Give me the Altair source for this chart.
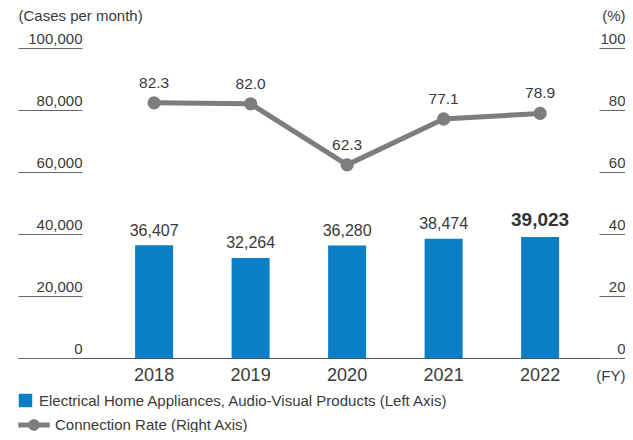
import altair as alt
import pandas as pd

years = ["2018", "2019", "2020", "2021", "2022"]
cases = [36407, 32264, 36280, 38474, 39023]
rates = [82.3, 82.0, 62.3, 77.1, 78.9]
highlight = [False, False, False, False, True]
left_ticks = [0, 20000, 40000, 60000, 80000, 100000]
right_ticks = [0, 20, 40, 60, 80, 100]
bar_series = "Electrical Home Appliances, Audio-Visual Products (Left Axis)"
line_series = "Connection Rate (Right Axis)"

df = pd.DataFrame({
    "year": years, "cases": cases, "rate": rates, "highlight": highlight,
    "bar_series": bar_series, "line_series": line_series,
})

FONT = "Liberation Sans"
TXT = "#3a3a3a"
BLUE = "#0b7fc5"
GRAY = "#7d7d7f"
LINE_SYMBOL = ("M-1,-0.16H-0.3V0.16H-1Z M0.3,-0.16H1V0.16H0.3Z "
               "M0.37,0A0.37,0.37 0 1 1 -0.37,0A0.37,0.37 0 1 1 0.37,0Z")
W = 607
H = 310

x_scale = alt.Scale(paddingInner=0.606, paddingOuter=0.948, align=0.64)
x_axis = alt.Axis(
    title="(FY)", labelAngle=0, ticks=False, labelPadding=22,
    labelBaseline="alphabetic", labelFontSize=18, labelColor=TXT, labelFont=FONT,
    domainColor="#555555", domainWidth=1, titleX=W, titleY=22,
    titleAlign="right", titleBaseline="alphabetic", titleFontSize=15,
    titleFontWeight="normal", titleColor=TXT, titleFont=FONT,
)
x_enc = alt.X("year:N", sort=years, scale=x_scale, axis=x_axis)

yl_scale = alt.Scale(domain=[0, 100000], nice=False)
yl_axis = alt.Axis(
    orient="left", offset=-64, values=left_ticks, format=",.0f", domain=False,
    grid=False, tickSize=64, tickColor="#666666", tickWidth=1,
    labelPadding=-64, labelAlign="right", labelBaseline="alphabetic",
    labelOffset=-5, labelFontSize=15, labelColor=TXT, labelFont=FONT,
    title="(Cases per month)", titleAngle=0, titleX=-64, titleY=-28,
    titleAlign="left", titleBaseline="alphabetic", titleFontSize=15,
    titleFontWeight="normal", titleColor=TXT, titleFont=FONT,
)
yr_scale = alt.Scale(domain=[0, 100], nice=False)
yr_axis = alt.Axis(
    orient="right", offset=-26, values=right_ticks, format=".0f", domain=False,
    grid=False, tickSize=26, tickColor="#666666", tickWidth=1,
    labelPadding=0, labelAlign="right", labelBaseline="alphabetic",
    labelOffset=-5, labelFontSize=15, labelColor=TXT, labelFont=FONT,
    title="(%)", titleAngle=0, titleX=26, titleY=-28,
    titleAlign="right", titleBaseline="alphabetic", titleFontSize=15,
    titleFontWeight="normal", titleColor=TXT, titleFont=FONT,
)
yl_enc = alt.Y("cases:Q", scale=yl_scale, axis=yl_axis)
yr_enc = alt.Y("rate:Q", scale=yr_scale, axis=yr_axis)

base = alt.Chart(df)

bars = base.mark_bar(color=BLUE).encode(
    x=x_enc,
    y=yl_enc,
    color=alt.Color("bar_series:N", scale=alt.Scale(range=[BLUE]),
                    legend=alt.Legend(
                        orient="none", legendX=0, legendY=345, padding=0,
                        title=None, symbolType="square", symbolSize=182,
                        symbolStrokeWidth=0, labelFontSize=15, labelFont=FONT,
                        labelColor=TXT, labelOffset=6, labelLimit=0)),
)
bar_text = base.transform_filter("!datum.highlight").mark_text(
    baseline="alphabetic", dy=-9.5, fontSize=16, font=FONT, color=TXT
).encode(
    x=x_enc,
    y=yl_enc,
    text=alt.Text("cases:Q", format=","),
)
bar_text_bold = base.transform_filter("datum.highlight").mark_text(
    baseline="alphabetic", dy=-11, fontSize=19, fontWeight="bold", font=FONT,
    color="#333333"
).encode(
    x=x_enc,
    y=yl_enc,
    text=alt.Text("cases:Q", format=","),
)

line = base.mark_line(color=GRAY, strokeWidth=5).encode(
    x=x_enc,
    y=yr_enc,
)
dots = base.mark_circle(size=177, opacity=1).encode(
    x=x_enc,
    y=yr_enc,
    color=alt.Color("line_series:N", scale=alt.Scale(range=[GRAY]),
                    legend=alt.Legend(
                        orient="none", legendX=0, legendY=361, padding=0,
                        title=None, symbolType=LINE_SYMBOL, symbolSize=986,
                        symbolStrokeWidth=0, symbolOpacity=1, labelFontSize=15,
                        labelFont=FONT, labelColor=TXT, labelOffset=5,
                        labelLimit=0)),
)
line_text = base.mark_text(
    baseline="alphabetic", dy=-15, fontSize=15.5, font=FONT, color=TXT
).encode(
    x=x_enc,
    y=yr_enc,
    text=alt.Text("rate:Q", format=".1f"),
)

left = alt.layer(bars, bar_text, bar_text_bold)
right = alt.layer(line, dots, line_text)

chart = alt.layer(left, right).resolve_scale(
    y="independent", color="independent"
).resolve_legend(color="independent").properties(
    width=W, height=H,
    padding={"left": 10, "top": 40, "right": 0, "bottom": 74},
    autosize=alt.AutoSizeParams(type="none"),
).configure_view(stroke=None)

chart.save("out.html", embed_options={"renderer": "svg", "actions": False})
